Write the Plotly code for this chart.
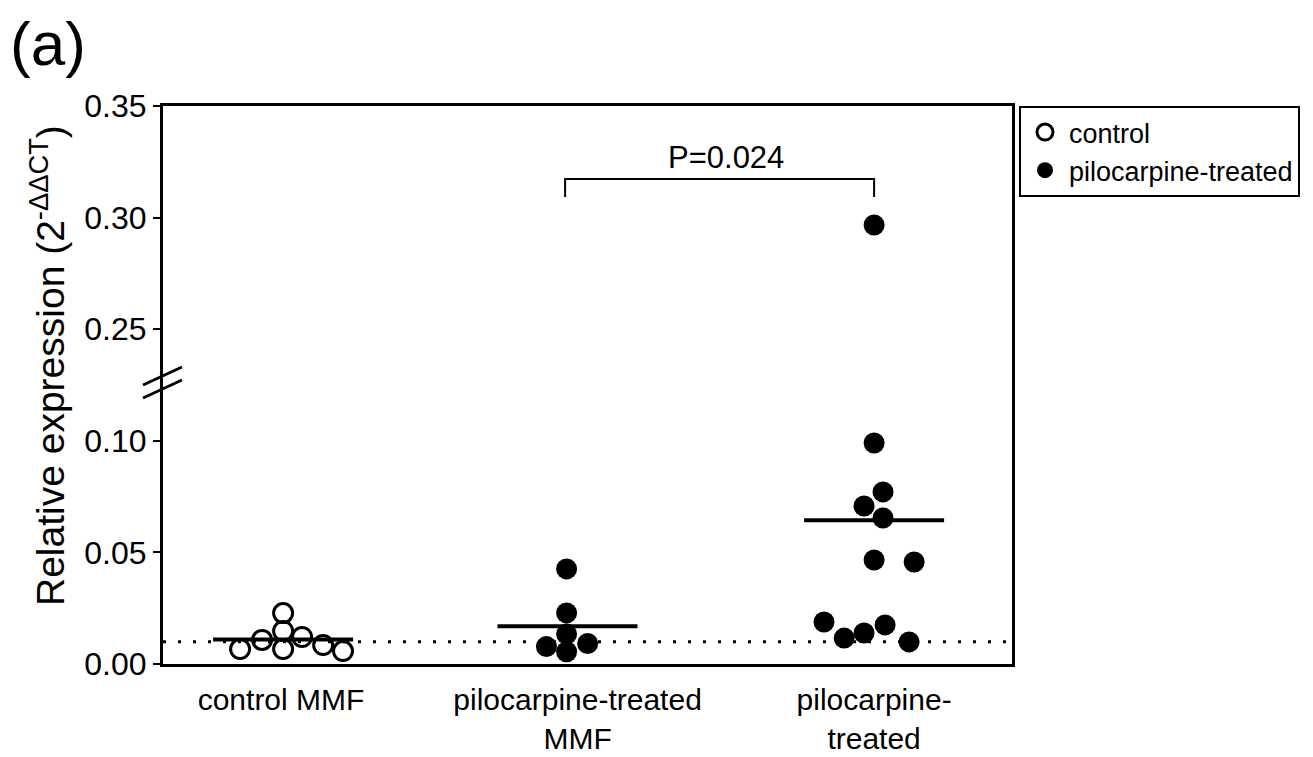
import plotly.graph_objects as go
import numpy as np

# ---------------- data ----------------
categories = ["control MMF", "pilocarpine-treated<br>MMF", "pilocarpine-<br>treated"]
control_mmf = [0.0067, 0.0108, 0.0228, 0.0148, 0.0067, 0.0121, 0.0085, 0.0058]
pilo_mmf = [0.0426, 0.0229, 0.0134, 0.0078, 0.0055, 0.0092]
pilo = [0.2967, 0.0990, 0.0771, 0.0708, 0.0654, 0.0466, 0.0457, 0.0188, 0.0116, 0.0139, 0.0175, 0.0099]
detection_limit = 0.010
p_value_text = "P=0.024"
tick_labels = ["0.00", "0.05", "0.10", "0.25", "0.30", "0.35"]

# ---------------- layout helpers (scatter jitter, not data) ----------------
jit_control_mmf = [-0.138, -0.064, 0.007, 0.007, 0.007, 0.071, 0.142, 0.209]
jit_pilo_mmf = [-0.037, -0.037, -0.037, -0.105, -0.037, 0.034]
jit_pilo = [0.0, 0.0, 0.030, -0.034, 0.030, 0.0, 0.135, -0.169, -0.101, -0.034, 0.037, 0.118]
line_shift = [0.007, -0.034, 0.0]
line_half = 0.236

# broken axis: values above the break are shifted down by the gap
BREAK_LO, BREAK_HI = 0.10, 0.25
GAP = BREAK_HI - BREAK_LO - 0.05


def tr(v):
    v = np.asarray(v, dtype=float)
    return np.where(v >= BREAK_HI, v - GAP, v)


FONT = "Liberation Sans, Arial, sans-serif"

fig = go.Figure()

groups = [control_mmf, pilo_mmf, pilo]

# control (open)
fig.add_trace(go.Scatter(
    x=[0 + j for j in jit_control_mmf], y=tr(control_mmf),
    mode="markers", name="control",
    marker=dict(symbol="circle-open", size=19, color="black", line=dict(width=3, color="black")),
))
# pilocarpine-treated (filled)
xs = [1 + j for j in jit_pilo_mmf] + [2 + j for j in jit_pilo]
ys = list(tr(pilo_mmf)) + list(tr(pilo))
fig.add_trace(go.Scatter(
    x=xs, y=ys, mode="markers", name="pilocarpine-treated",
    marker=dict(symbol="circle", size=21, color="black", line=dict(width=0)),
))

# dotted detection line
fig.add_trace(go.Scatter(
    x=[-0.398, 2.465], y=[detection_limit, detection_limit], mode="lines",
    line=dict(color="black", width=3, dash="3px,12px"), showlegend=False, hoverinfo="skip",
))

# mean lines
for i, g in enumerate(groups):
    m = float(np.mean(g))
    c = i + line_shift[i]
    fig.add_trace(go.Scatter(
        x=[c - line_half, c + line_half], y=[float(tr(m)), float(tr(m))], mode="lines",
        line=dict(color="black", width=4), showlegend=False, hoverinfo="skip",
    ))

# significance bracket
yb_top = 0.2173
yb_bot = 0.2092
fig.add_trace(go.Scatter(
    x=[0.958, 0.958, 2.0, 2.0], y=[yb_bot, yb_top, yb_top, yb_bot], mode="lines",
    line=dict(color="black", width=2), showlegend=False, hoverinfo="skip",
))
fig.add_annotation(x=1.5, y=yb_top, yref="y", xref="x", text=p_value_text, showarrow=False,
                   yanchor="bottom", yshift=2, font=dict(family=FONT, size=31, color="black"))

# page geometry (browser adds an 8px body margin)
OFF = 8
FW, FH = 1313 - OFF, 757 - OFF
L, T, W, H = 163, 106, 849, 558


def px(x):
    return (x - L) / W


def py(y):
    return (T + H - y) / H


# axis break marks
for dy in (0, 13):
    fig.add_shape(type="line", xref="paper", yref="paper",
                  x0=px(143), y0=py(385 + dy), x1=px(182), y1=py(367 + dy),
                  line=dict(color="black", width=3))

# panel label
fig.add_annotation(x=px(9), y=py(OFF), xref="paper", yref="paper", text="(a)", showarrow=False,
                   xanchor="left", yanchor="top", borderpad=0,
                   font=dict(family=FONT, size=62, color="black"))

# y-axis title
fig.add_annotation(x=px(47), y=py(366), xref="paper", yref="paper",
                   text="Relative expression (2<sup>-ΔΔCT</sup>)", textangle=-90,
                   showarrow=False, xanchor="center", yanchor="middle",
                   font=dict(family=FONT, size=39, color="black"))

tickvals = [float(tr(float(t))) for t in tick_labels]

fig.update_layout(
    width=FW, height=FH,
    margin=dict(l=L - OFF, r=1313 - L - W, t=T - OFF, b=757 - T - H),
    paper_bgcolor="white", plot_bgcolor="white",
    font=dict(family=FONT, size=31, color="black"),
    showlegend=True,
    legend=dict(xref="container", yref="container",
                x=(1019 - OFF) / FW, y=1 - (106 - OFF) / FH, xanchor="left", yanchor="top",
                bordercolor="black", borderwidth=2, font=dict(size=27, family=FONT),
                itemsizing="trace", itemwidth=38, tracegroupgap=0),
    xaxis=dict(range=[-0.398, 2.465], tickvals=[0, 1, 2], ticktext=categories,
               showline=True, mirror=True, linecolor="black", linewidth=3,
               ticks="", showgrid=False, zeroline=False, ticklabelstandoff=7,
               automargin=False, tickfont=dict(size=30, family=FONT)),
    yaxis=dict(range=[0, 0.25], tickvals=tickvals, ticktext=tick_labels,
               showline=True, mirror=True, linecolor="black", linewidth=3,
               ticks="outside", ticklen=7, tickwidth=2, tickcolor="black",
               automargin=False,
               showgrid=False, zeroline=False, tickfont=dict(size=32, family=FONT)),
)

fig.write_html("out.html")
